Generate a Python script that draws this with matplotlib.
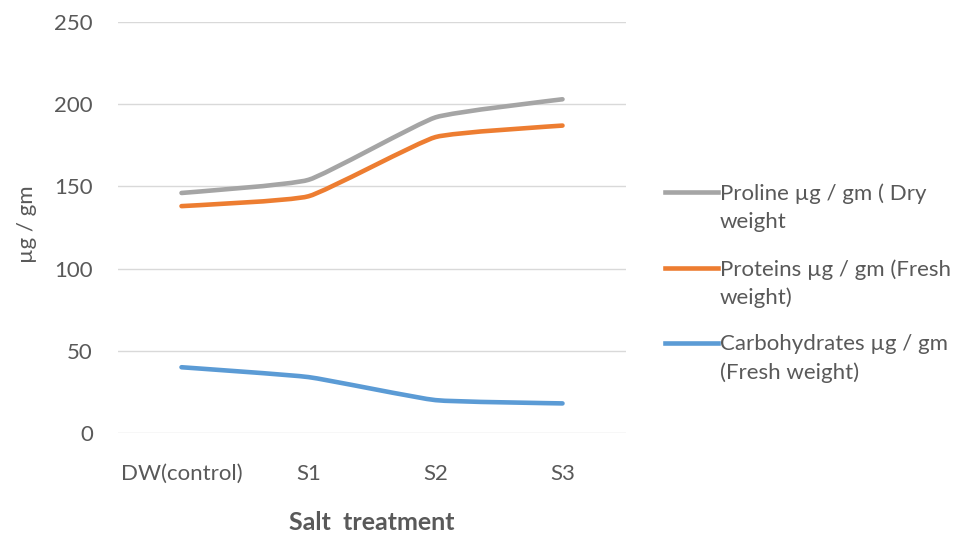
import numpy as np
import matplotlib
matplotlib.use('Agg')
import matplotlib.pyplot as plt
from matplotlib.path import Path
from matplotlib.patches import PathPatch
from matplotlib.lines import Line2D

categories = ['DW(control)', 'S1', 'S2', 'S3']
proline = [146, 154, 192, 203]
proteins = [138, 144, 180, 187]
carbohydrates = [40, 34, 20, 18]
series_labels = ['Proline µg / gm ( Dry\nweight',
                 'Proteins µg / gm (Fresh\nweight)',
                 'Carbohydrates µg / gm\n(Fresh weight)']
y_ticks = [0, 50, 100, 150, 200, 250]
colors = ['#A5A5A5', '#ED7D31', '#5B9BD5']
x_label = 'Salt  treatment'
y_label = 'µg / gm'

plt.rcParams['font.family'] = ['Lato', 'DejaVu Sans']
TXT = '#595959'

fig = plt.figure(figsize=(9.55, 5.38), dpi=100)
ax = fig.add_axes([118/955, 1-433/538, 508/955, 411/538])


def smooth_path(xs, ys, t=0.07):
    pts = np.column_stack([xs, ys]).astype(float)
    n = len(pts)
    verts = [pts[0]]
    codes = [Path.MOVETO]
    for i in range(n - 1):
        p0 = pts[i - 1] if i > 0 else pts[i]
        p1 = pts[i]
        p2 = pts[i + 1]
        p3 = pts[i + 2] if i + 2 < n else pts[i + 1]
        c1 = p1 + (p2 - p0) * t
        c2 = p2 - (p3 - p1) * t
        verts += [c1, c2, p2]
        codes += [Path.CURVE4] * 3
    return Path(verts, codes)


xs = np.arange(len(categories))
series = [proline, proteins, carbohydrates]
for vals, col in zip(series, colors):
    patch = PathPatch(smooth_path(xs, vals), facecolor='none', edgecolor=col,
                      lw=3.3, capstyle='round', joinstyle='round', zorder=3)
    ax.add_patch(patch)

ax.set_xlim(-0.5, len(categories) - 0.5)
ax.set_ylim(0, 250)
ax.set_yticks(y_ticks)
ax.set_xticks(xs)
ax.set_xticklabels(categories)
ax.grid(axis='y', color='#D9D9D9', lw=1)
ax.set_axisbelow(True)
for s in ax.spines.values():
    s.set_visible(False)
ax.tick_params(axis='both', length=0, labelsize=16, labelcolor=TXT)
ax.tick_params(axis='y', pad=18)
ax.tick_params(axis='x', pad=22)

ax.set_xlabel(x_label, fontsize=18, color=TXT, fontweight='bold', va='center')
ax.xaxis.set_label_coords(0.5, (433 - 522) / 411)
ax.set_ylabel(y_label, fontsize=16, color=TXT, va='center', ha='center')
ax.yaxis.set_label_coords((27 - 118) / 508, (433 - 224) / 411)

# legend (manual layout)
leg_rows = [192, 268, 343]
for lab, col, yr in zip(series_labels, colors, leg_rows):
    yf = 1 - yr / 538
    fig.add_artist(Line2D([665/955, 718/955], [yf, yf], transform=fig.transFigure,
                          color=col, lw=3.3))
    fig.text(720/955, 1 - (yr - 9) / 538, lab, fontsize=16, color=TXT,
             va='top', ha='left', linespacing=1.5)

fig.savefig('out.png', dpi=100)
